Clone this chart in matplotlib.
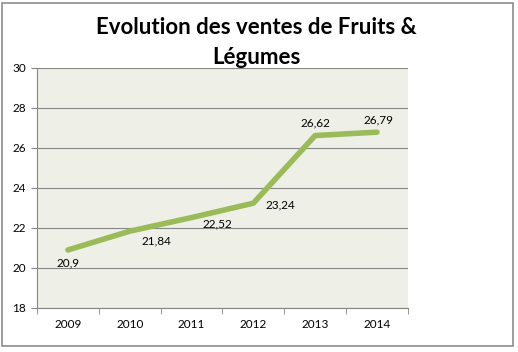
import matplotlib
matplotlib.use("Agg")
import matplotlib.pyplot as plt
from matplotlib.patches import Rectangle

years = ["2009", "2010", "2011", "2012", "2013", "2014"]
values = [20.9, 21.84, 22.52, 23.24, 26.62, 26.79]
labels = ["20,9", "21,84", "22,52", "23,24", "26,62", "26,79"]
yticks = [18, 20, 22, 24, 26, 28, 30]

plt.rcParams['font.family'] = ['Lato', 'DejaVu Sans']

fig = plt.figure(figsize=(5.18, 3.52), dpi=100)
fig.patch.set_facecolor('white')
fig.add_artist(Rectangle((0.004, 0.017), 0.987, 0.975, transform=fig.transFigure,
                         fill=False, edgecolor='#8c8c8c', linewidth=1.2))

ax = fig.add_axes([0.0714, 0.125, 0.716, 0.682])
ax.set_facecolor('#EEF0E8')
x = list(range(len(years)))
ax.plot(x, values, color='#9BBB59', linewidth=4.0, solid_capstyle='round', zorder=3)

offsets = [(0, -9.5), (19.5, -7.2), (18.7, -4.3), (19.4, -1.4), (0, 9.4), (1.4, 8.8)]
for xi, v, lab, off in zip(x, values, labels, offsets):
    ax.annotate(lab, (xi, v), xytext=off, textcoords='offset points',
                ha='center', va='center', fontsize=8.5, color='black')

ax.set_xlim(-0.5, len(years) - 0.5)
ax.set_ylim(18, 30)
ax.set_yticks(yticks)
ax.set_yticklabels([str(t) for t in yticks], fontsize=8.5)
ax.set_xticks(x)
ax.set_xticklabels(years, fontsize=8.5)
ax.set_xticks([i - 0.5 for i in range(len(years) + 1)], minor=True)
ax.tick_params(axis='x', which='major', length=0, pad=8)
ax.tick_params(axis='x', which='minor', length=4, color='#868686', direction='out')
ax.tick_params(axis='y', length=4, color='#868686', pad=4)
ax.grid(axis='y', color='#868686', linewidth=0.8)
ax.set_axisbelow(True)
for s in ['top', 'right']:
    ax.spines[s].set_visible(False)
for s in ['left', 'bottom']:
    ax.spines[s].set_color('#868686')
    ax.spines[s].set_linewidth(0.8)

fig.text(0.495, 0.922, "Evolution des ventes de Fruits &", ha='center', va='center',
         fontsize=16, fontweight='bold')
fig.text(0.495, 0.838, "Légumes", ha='center', va='center',
         fontsize=16, fontweight='bold')

fig.savefig("out.png", dpi=100)
